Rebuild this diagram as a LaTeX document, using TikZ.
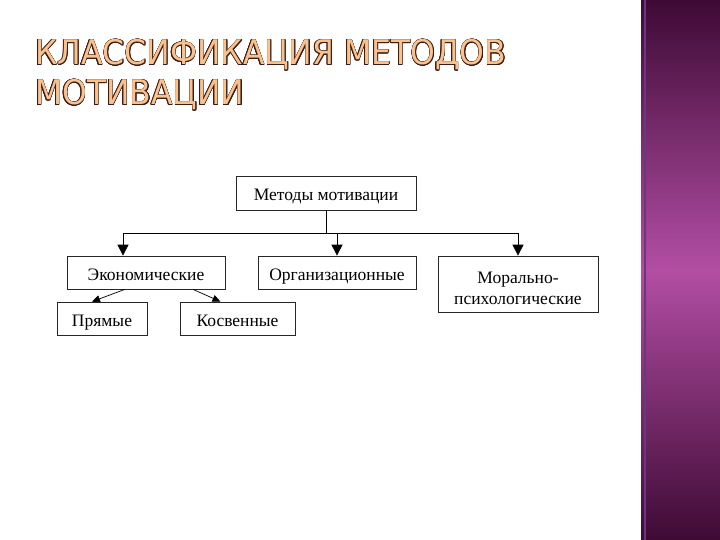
\documentclass[tikz,border=0pt]{standalone}
\usepackage{fontspec}
\setmainfont{Liberation Serif}
\newfontfamily\titlefont{DejaVu Sans}
\usepackage{contour}
\contourlength{0.6pt}
\usetikzlibrary{arrows.meta}
\definecolor{titlefill}{HTML}{F8C290}
\definecolor{titleedge}{HTML}{3E1A10}
\definecolor{barmid}{HTML}{B24EA4}
\definecolor{bardark}{HTML}{3E0A34}
\definecolor{barline}{HTML}{6E3580}

\begin{document}
\begin{tikzpicture}[x=1pt, y=-1pt, box/.style={draw=black!85, line width=0.7pt, font=\fontsize{17.5}{21}\selectfont, inner sep=0pt, text height=16pt, text depth=1pt}, tallbox/.style={box, align=center, text height=, text depth=}, arr/.style={-{Triangle[width=11pt,length=11pt]}, line width=0.7pt}, smallarr/.style={-{Triangle[width=7pt,length=8pt]}, line width=0.7pt}, title/.style={anchor=base west, inner sep=0pt, font=\titlefont\fontsize{34}{40}\selectfont, text=titlefill}]
\useasboundingbox (0,0) rectangle (720,540);
\shade[top color=bardark, bottom color=bardark, middle color=barmid] (641,0) rectangle (720,540);
\draw[barline, line width=1.5pt] (645,0) -- (645,540);
\node[title] (t1) at (35,65) {\scalebox{0.925}[1]{\contour{titleedge}{КЛАССИФИКАЦИЯ МЕТОДОВ}}};
\node[title] (t2) at (35,105) {\scalebox{0.925}[1]{\contour{titleedge}{МОТИВАЦИИ}}};
\node[box, minimum width=180pt, minimum height=34pt] (methods) at (326,193) {Методы мотивации};
\node[box, minimum width=158pt, minimum height=33pt] (econ) at (146,272.5) {Экономические};
\node[box, minimum width=158pt, minimum height=33pt] (org) at (337,272.5) {Организационные};
\node[tallbox, minimum width=160pt, minimum height=56pt] (moral) at (518,284) {\rule{0pt}{21pt}Морально-\\психологические};
\node[box, minimum width=90pt, minimum height=33pt] (direct) at (102,318.5) {Прямые};
\node[box, minimum width=115pt, minimum height=33pt] (indirect) at (237.5,318.5) {Косвенные};
\coordinate (bus) at (0,233);
\draw[line width=0.7pt] (methods) -- (methods |- bus);
\draw[line width=0.7pt] ([xshift=-23pt]econ.north |- bus) -- (moral.north |- bus);
\draw[arr] ([xshift=-23pt]econ.north |- bus) -- ([xshift=-23pt]econ.north);
\draw[arr] (org.north |- bus) -- (org);
\draw[arr] (moral.north |- bus) -- (moral);
\draw[smallarr] ([xshift=-21pt]econ.south) -- ([xshift=-10pt]direct.north);
\draw[smallarr] ([xshift=47pt]econ.south) -- ([xshift=-17pt]indirect.north);
\end{tikzpicture}
\end{document}
